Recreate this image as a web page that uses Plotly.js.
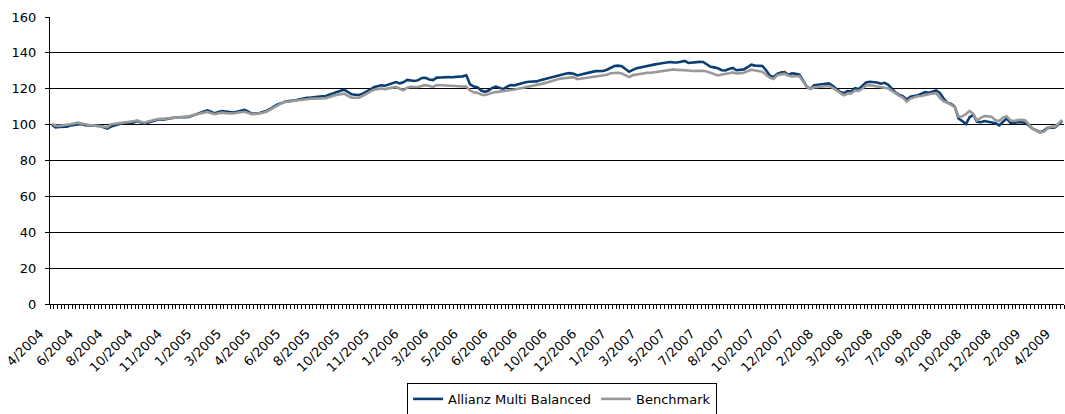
<!DOCTYPE html>
<html>
<head>
<meta charset="utf-8">
<script src="https://cdn.plot.ly/plotly-3.0.1.min.js"></script>
<style>
html,body{margin:0;padding:0;background:#fff;}
#chart{width:1065px;height:414px;}
</style>
</head>
<body>
<div id="chart"></div>
<script>
// Tick labels (one every 8 weekly observations)
const tickLabels = ["4/2004","6/2004","8/2004","10/2004","11/2004","1/2005","3/2005","4/2005","6/2005","8/2005","10/2005","11/2005","1/2006","3/2006","5/2006","6/2006","8/2006","10/2006","12/2006","1/2007","3/2007","5/2007","7/2007","8/2007","10/2007","12/2007","2/2008","3/2008","5/2008","7/2008","9/2008","10/2008","12/2008","2/2009","4/2009"];

// Allianz Multi Balanced (weekly, indexed to 100)
const fundValues = [
100.0,98.4,98.7,98.8,98.9,99.5,99.8,100.5,100.4,99.7,
99.5,99.3,99.2,99.3,98.5,97.8,98.9,99.6,100.3,100.8,
101.0,100.9,101.1,102.0,101.2,100.6,101.2,101.9,102.5,103.0,
102.8,103.0,103.3,103.8,104.1,104.0,104.2,104.3,105.0,105.6,
106.2,107.0,108.0,107.2,106.3,107.0,107.6,107.3,106.8,106.7,
107.2,107.5,108.2,107.4,106.1,106.2,106.3,107.0,107.6,108.8,
110.2,111.2,112.0,112.8,113.1,113.3,113.6,114.2,114.8,115.0,
115.1,115.2,115.5,115.8,116.0,116.8,117.5,118.2,118.9,119.5,
118.0,116.9,116.7,116.5,117.3,118.2,119.5,120.8,121.2,121.9,
121.7,122.3,123.0,123.7,123.0,123.6,124.9,124.5,124.3,124.8,
126.0,126.1,125.2,124.8,126.2,126.3,126.5,126.5,126.4,126.6,
126.5,126.9,127.5,122.5,121.3,120.9,119.0,118.3,119.0,120.4,
121.2,120.6,119.8,121.2,122.0,121.9,122.6,123.2,123.6,123.9,
123.9,124.1,124.8,125.4,125.8,126.3,126.9,127.4,128.0,128.5,
128.7,128.4,127.4,127.9,128.5,128.9,129.4,129.8,129.9,129.9,
130.6,131.5,132.7,132.9,132.6,131.0,129.5,130.5,131.4,131.8,
132.3,132.9,133.4,133.6,133.9,134.2,134.6,134.9,134.7,134.6,
135.1,135.5,134.4,134.7,135.1,135.0,134.9,133.5,132.2,131.9,
131.4,130.3,130.2,131.0,131.6,130.3,130.6,130.8,132.0,133.4,
132.9,132.6,132.7,130.3,127.4,126.5,128.3,129.0,129.3,127.8,
128.6,128.3,127.8,124.5,121.2,119.9,121.9,122.2,122.6,123.0,
123.0,121.7,120.0,118.2,117.6,118.7,118.5,120.3,119.8,121.5,
123.5,123.9,123.9,123.5,122.8,123.3,122.2,120.0,117.8,116.6,
115.8,114.0,115.5,116.0,116.3,117.3,118.1,117.8,118.6,119.1,
117.6,114.4,112.2,111.5,110.0,103.4,102.0,100.3,104.2,105.5,
101.6,101.3,102.0,101.7,101.3,100.8,99.6,101.6,103.5,101.0,
100.9,101.5,101.3,101.1,99.6,97.8,96.8,95.8,96.5,98.1,
98.3,98.4,100.0,102.0
];

// Benchmark (weekly, indexed to 100)
const benchValues = [
100.6,99.4,99.3,99.5,99.6,100.2,100.6,101.1,100.6,100.0,
99.8,99.6,99.4,99.2,98.9,98.6,100.2,100.5,101.0,101.4,
101.5,101.6,101.8,102.4,101.6,101.1,101.7,102.3,102.8,103.3,
103.2,103.4,103.6,103.8,103.9,104.1,104.4,104.6,105.2,105.8,
106.2,106.6,107.1,106.4,105.8,106.3,106.7,106.4,106.1,106.2,
106.6,106.9,107.2,106.6,105.8,105.9,106.1,106.6,107.2,108.4,
109.8,110.9,111.8,112.6,112.9,113.2,113.5,113.8,114.1,114.2,
114.4,114.5,114.6,114.7,114.7,115.4,116.1,116.6,117.0,117.3,
116.0,115.0,115.0,115.0,116.0,117.2,118.4,119.5,119.8,120.1,
119.8,120.2,120.6,121.0,120.0,119.2,120.6,121.1,121.0,121.0,
121.6,122.0,121.5,121.0,122.1,121.9,121.8,121.7,121.6,121.5,
121.4,121.3,121.2,119.0,118.0,117.7,116.8,116.4,117.2,117.8,
118.1,118.3,118.7,119.0,119.3,119.6,120.0,120.6,121.0,121.2,
121.4,121.8,122.4,123.0,123.6,124.3,124.9,125.4,125.8,126.0,
126.3,126.5,125.3,125.6,126.0,126.0,126.3,126.6,126.8,127.1,
127.8,128.6,128.9,128.9,128.5,127.6,126.5,127.6,128.0,128.3,
128.6,128.9,128.9,129.2,129.5,129.9,129.9,130.6,130.8,130.5,
130.4,130.6,130.2,129.9,130.0,130.3,130.0,129.6,128.9,128.2,
127.4,128.0,128.2,128.6,129.1,128.5,128.7,128.9,129.8,130.6,
130.2,129.7,129.5,127.8,126.2,125.4,127.6,128.0,128.3,127.4,
126.8,127.0,127.0,124.1,121.0,119.9,120.8,121.0,121.2,121.4,
121.5,120.5,119.2,117.5,116.4,117.2,117.4,119.0,118.8,120.0,
121.8,122.0,121.6,121.4,120.8,120.4,120.1,118.8,117.2,116.0,
115.0,112.8,114.5,115.2,115.8,116.0,116.6,116.9,117.3,117.5,
114.8,113.0,112.2,111.2,109.8,104.6,104.5,105.9,107.6,106.0,
102.3,103.8,104.8,104.6,104.3,102.4,102.0,103.9,104.7,102.4,
102.0,102.5,102.7,102.4,100.0,97.8,96.7,95.6,96.0,97.8,
98.9,98.9,100.5,102.6
];

const seriesNames = ["Allianz Multi Balanced","Benchmark"];

const xIdx = fundValues.map((_, i) => i);
const tickVals = tickLabels.map((_, k) => k * 8);

const traces = [
  {x: xIdx, y: fundValues, name: seriesNames[0], type: 'scatter', mode: 'lines',
   line: {color: '#0b3f74', width: 2.6}},
  {x: xIdx, y: benchValues, name: seriesNames[1], type: 'scatter', mode: 'lines',
   line: {color: '#999999', width: 2.6}}
];

const layout = {
  width: 1065, height: 414,
  margin: {l: 50, r: 1, t: 17, b: 110},
  paper_bgcolor: '#fff', plot_bgcolor: '#fff',
  font: {family: 'DejaVu Sans, Arial, sans-serif', size: 13, color: '#000'},
  showlegend: true,
  legend: {orientation: 'h', x: 0.505, xanchor: 'center',
           yref: 'container', y: 0.075, yanchor: 'top',
           bordercolor: '#000', borderwidth: 1, font: {size: 13},
           tracegroupgap: 0},
  xaxis: {
    automargin: false,
    range: [-0.5, fundValues.length - 0.5],
    tickmode: 'array', tickvals: tickVals, ticktext: tickLabels,
    tickangle: -45, ticks: '', showgrid: false, zeroline: false,
    showline: true, linecolor: '#000', linewidth: 1,
    ticklabelstandoff: 16, ticklabelshift: -12, ticklabeloverflow: 'allow',
    minor: {tickmode: 'linear', tick0: 0.5, dtick: 1, ticks: 'outside', ticklen: 4,
            tickcolor: '#000', tickwidth: 1, showgrid: false},
    tickfont: {size: 13}
  },
  yaxis: {
    automargin: false,
    range: [0, 160], dtick: 20, tick0: 0,
    showgrid: true, gridcolor: '#000', gridwidth: 1,
    zeroline: false, showline: true, linecolor: '#000', linewidth: 1,
    ticks: 'outside', ticklen: 4, tickcolor: '#000',
    ticklabelstandoff: 6,
    tickfont: {size: 13}
  }
};

Plotly.newPlot('chart', traces, layout, {staticPlot: true, displayModeBar: false});
</script>
</body>
</html>
